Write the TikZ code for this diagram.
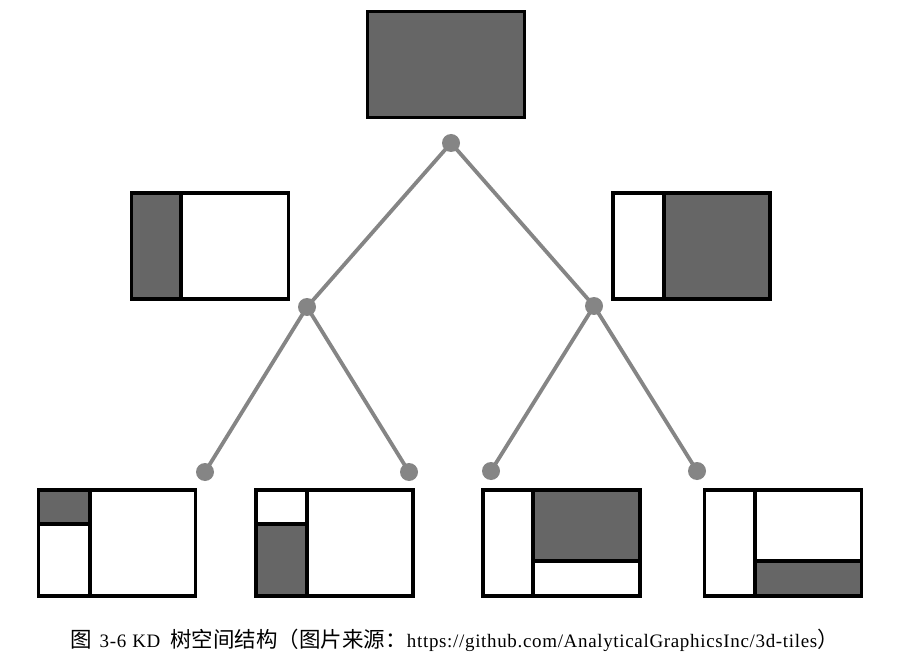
\documentclass[tikz,border=0pt]{standalone}
\usepackage{fontspec}
\setmainfont{Liberation Serif}[LetterSpace=3.5]
\newfontfamily\cjk{Noto Sans CJK SC}
\definecolor{cellgray}{HTML}{666666}
\definecolor{treegray}{HTML}{858585}
\tikzset{
  cell/.style={draw=black,line width=3.5pt,rectangle,minimum width=157pt,minimum height=106pt,inner sep=0pt},
  knot/.style={circle,fill=treegray,minimum size=18pt,inner sep=0pt},
  branch/.style={draw=treegray,line width=3.8pt},
  divider/.style={draw=black,line width=3.5pt},
  shade/.style={fill=cellgray}
}
\begin{document}
\begin{tikzpicture}[x=1pt,y=-1pt]
\useasboundingbox (0,0) rectangle (913,655);
% gray regions
\fill[shade] (367.5,11.5) rectangle (524.5,117.5);
\fill[shade] (131.5,193) rectangle (181,299);
\fill[shade] (664,193) rectangle (769.5,299);
\fill[shade] (38.5,490) rectangle (90,524);
\fill[shade] (256,524) rectangle (307,596);
\fill[shade] (533,490) rectangle (641,561);
\fill[shade] (755,561) rectangle (862,596);
% boxes
\node[cell] (top) at (446,64.5) {};
\node[cell] (la) at (210,246) {};
\node[cell] (ra) at (691.5,246) {};
\node[cell] (l1) at (117,543) {};
\node[cell] (l2) at (334.5,543) {};
\node[cell] (l3) at (561.5,543) {};
\node[cell] (l4) at (783,543) {};
% dividers
\draw[divider] (181,193) -- (181,299);
\draw[divider] (664,193) -- (664,299);
\draw[divider] (90,490) -- (90,596);
\draw[divider] (38.5,524) -- (90,524);
\draw[divider] (307,490) -- (307,596);
\draw[divider] (256,524) -- (307,524);
\draw[divider] (533,490) -- (533,596);
\draw[divider] (533,561) -- (641,561);
\draw[divider] (755,490) -- (755,596);
\draw[divider] (755,561) -- (862,561);
% tree
\node[knot] (root) at (451,143) {};
\node[knot] (nl) at (307,307) {};
\node[knot] (nr) at (594,306) {};
\node[knot] (a) at (205,472) {};
\node[knot] (b) at (409,472) {};
\node[knot] (c) at (491,471) {};
\node[knot] (d) at (697,471) {};
\draw[branch] (root.center) -- (nl.center);
\draw[branch] (root.center) -- (nr.center);
\draw[branch] (nl.center) -- (a.center);
\draw[branch] (nl.center) -- (b.center);
\draw[branch] (nr.center) -- (c.center);
\draw[branch] (nr.center) -- (d.center);
% caption
\node[anchor=base west,inner sep=0pt,font=\fontsize{19}{21}\selectfont] (cap) at (70,647)
  {{\cjk\fontsize{21.5}{24}\selectfont 图}\hspace{8pt}3-6\hspace{6pt}KD\hspace{10pt}{\cjk\fontsize{21.5}{24}\selectfont 树空间结构（图片来源：}https://github.com/AnalyticalGraphicsInc/3d-tiles{\cjk\fontsize{21.5}{24}\selectfont ）}};
\end{tikzpicture}
\end{document}
